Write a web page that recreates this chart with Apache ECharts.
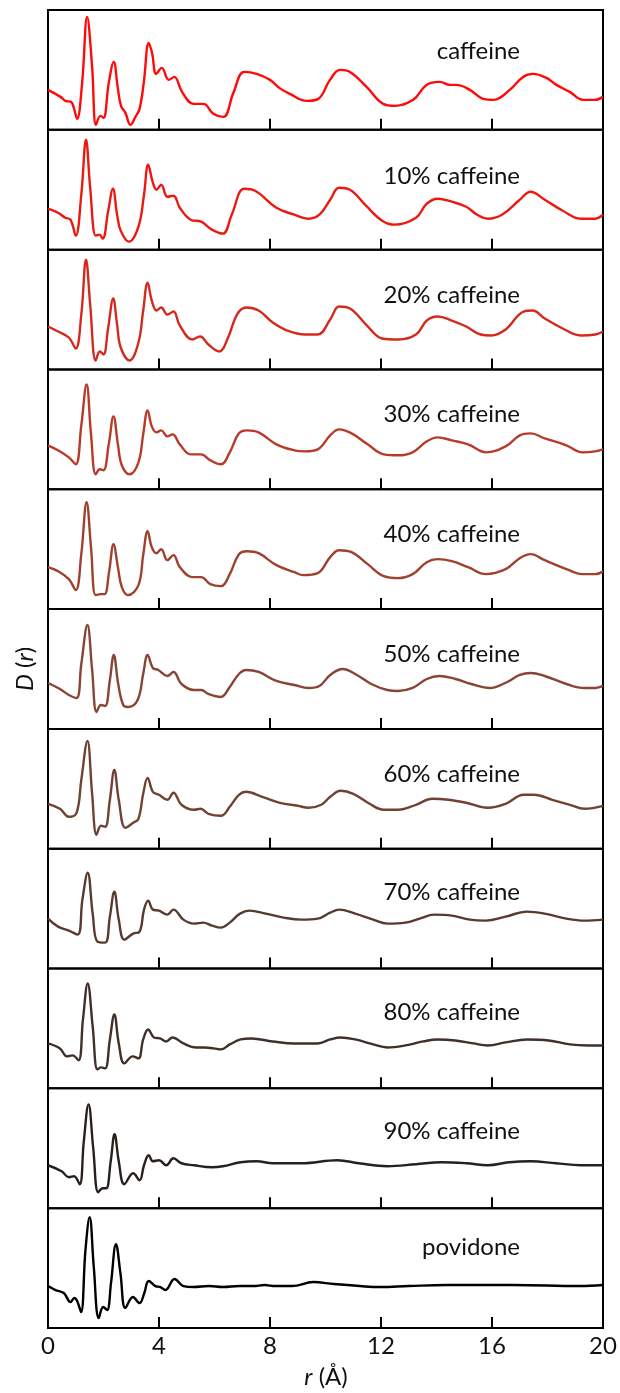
<!DOCTYPE html>
<html>
<head>
<meta charset="utf-8">
<script src="https://cdn.jsdelivr.net/npm/echarts@6/dist/echarts.min.js"></script>
<style>
html,body{margin:0;padding:0;background:#fff;}
#chart{width:620px;height:1393px;}
</style>
</head>
<body>
<div id="chart"></div>
<script>
// ---- data: [r (Å), D(r) in arbitrary units] ----
const caffeine = [[0,40],[0.45,33],[0.63,29],[0.83,28],[0.93,22],[1.05,11],[1.23,47],[1.41,113],[1.59,63],[1.73,5],[1.89,14],[2.0,12],[2.19,47],[2.37,68],[2.51,43],[2.63,24],[2.79,17],[2.97,5],[3.15,13],[3.3,21],[3.45,47],[3.63,87],[3.75,77],[3.9,56],[4.1,62],[4.35,50],[4.55,53],[4.83,38],[5.24,26],[5.6,26],[5.96,16],[6.32,13],[6.68,37],[7.07,58],[7.52,56],[8.0,50],[8.36,41.5],[8.72,36],[9.32,29],[9.74,31],[10.16,50],[10.52,60],[10.88,58],[11.48,43],[12.08,26],[12.5,24],[13.16,30],[13.64,45],[14.12,48],[14.48,45],[14.72,45],[15.2,40],[15.68,31],[16.04,30],[16.64,40],[17.12,53],[17.48,56],[17.96,52],[18.32,45],[18.8,38],[19.28,30],[19.7,30],[20,33]];
const caf10 = [[0,41],[0.36,37],[0.62,32],[0.81,30],[1.0,14],[1.2,55],[1.37,110],[1.52,62],[1.72,14],[1.85,15],[1.97,11],[2.17,39],[2.34,61],[2.49,35],[2.62,19],[2.92,8],[3.26,23],[3.46,55],[3.61,85],[3.78,67],[3.91,60],[4.08,65],[4.3,53],[4.52,54],[4.75,42],[5.14,30],[5.52,28],[5.91,20],[6.3,16],[6.62,35],[7.07,61],[7.46,59],[8.23,42],[8.88,35],[9.39,31],[9.78,35],[10.17,50],[10.49,62],[10.88,60],[11.46,44],[12.04,29],[12.49,25],[13.26,32],[13.65,46],[14.04,51],[14.55,48],[15.07,43],[15.46,35],[15.85,31],[16.36,35],[17.0,50],[17.39,58],[17.9,50],[18.55,39],[19.2,31],[19.72,31],[20,35]];
const caf20 = [[0,43],[0.36,38],[0.75,32],[1.0,21],[1.2,55],[1.37,110],[1.52,65],[1.72,9],[1.87,18],[2.0,15],[2.17,42],[2.35,71],[2.49,45],[2.62,22],[2.94,9],[3.26,27],[3.43,59],[3.59,87],[3.74,69],[3.91,59],[4.08,62],[4.3,55],[4.52,58],[4.75,44],[5.2,30],[5.48,33],[5.78,25],[6.17,18],[6.49,32],[6.81,55],[7.14,62],[7.59,59],[8.1,47],[8.62,39],[9.26,35],[9.72,35],[10.17,50],[10.49,63],[10.88,61],[11.46,45],[12.04,31],[12.62,30],[13.26,35],[13.65,49],[14.04,53],[14.55,49],[15.07,43],[15.59,35],[15.97,34],[16.49,40],[17.14,58],[17.46,59],[17.9,51],[18.55,41],[19.2,34],[19.72,35],[20,38]];
const caf30 = [[0,44],[0.36,39],[0.75,32],[1.0,25],[1.2,64],[1.39,105],[1.55,55],[1.72,15],[1.87,20],[2.0,19],[2.19,45],[2.36,73],[2.52,45],[2.66,24],[2.94,15],[3.26,27],[3.43,55],[3.59,79],[3.74,63],[3.91,57],[4.08,59],[4.3,53],[4.49,55],[4.75,45],[5.14,35],[5.52,35],[5.85,29],[6.23,25],[6.55,37],[6.88,56],[7.17,59],[7.59,57],[8.23,45],[8.88,39],[9.26,38],[9.72,40],[10.17,54],[10.49,60],[10.94,56],[11.52,45],[12.1,35],[12.62,34],[13.14,37],[13.65,48],[14.04,52],[14.55,49],[15.14,45],[15.78,37],[16.49,43],[17.0,54],[17.39,56],[17.9,51],[18.68,44],[19.26,37],[19.72,38],[20,40]];
const caf40 = [[0,42],[0.36,38],[0.75,30],[1.0,19],[1.2,55],[1.39,107],[1.55,62],[1.72,14],[1.91,15],[2.04,15],[2.21,39],[2.36,65],[2.52,42],[2.66,22],[2.88,14],[3.26,24],[3.43,54],[3.59,78],[3.74,62],[3.91,56],[4.08,60],[4.3,49],[4.52,54],[4.75,42],[5.2,32],[5.52,32],[5.85,25],[6.23,23],[6.55,35],[6.88,55],[7.17,58],[7.59,56],[8.23,44],[8.88,37],[9.2,34],[9.72,36],[10.17,52],[10.49,59],[10.94,57],[11.52,45],[12.1,33],[12.62,31],[13.14,35],[13.65,47],[14.04,50],[14.55,48],[15.14,42],[15.78,35],[16.49,40],[17.0,51],[17.39,55],[17.9,49],[18.68,40],[19.26,35],[19.72,35],[20,38]];
const caf50 = [[0,46],[0.43,40],[0.75,34],[1.03,31],[1.2,65],[1.42,104],[1.59,59],[1.75,17],[1.91,24],[2.06,23],[2.23,49],[2.37,74],[2.53,45],[2.71,24],[2.88,22],[3.23,29],[3.43,55],[3.59,74],[3.78,61],[3.97,59],[4.3,53],[4.52,57],[4.81,45],[5.26,39],[5.52,39],[5.78,35],[6.23,32],[6.55,42],[6.88,55],[7.14,59],[7.59,57],[8.23,48],[8.88,44],[9.39,41],[9.78,43],[10.17,54],[10.62,60],[11.07,55],[11.65,45],[12.23,39],[12.62,38],[13.14,41],[13.65,50],[14.1,53],[14.68,50],[15.26,45],[15.91,41],[16.55,47],[17.0,54],[17.39,56],[17.9,53],[18.68,45],[19.33,41],[19.72,41],[20,43]];
const caf60 = [[0,45],[0.43,40],[0.75,32],[1.03,36],[1.2,69],[1.42,108],[1.59,55],[1.75,14],[1.91,23],[2.06,22],[2.23,49],[2.39,79],[2.55,49],[2.79,21],[3.07,26],[3.26,30],[3.43,55],[3.59,71],[3.78,57],[4.0,54],[4.3,49],[4.52,56],[4.81,44],[5.26,39],[5.5,40],[5.78,35],[6.23,33],[6.55,42],[6.88,54],[7.14,57],[7.72,52],[8.36,46],[9.0,43],[9.39,41],[9.85,44],[10.17,52],[10.55,58],[11.0,55],[11.59,45],[12.1,39],[12.62,39],[13.26,44],[13.85,50],[14.43,49],[15.07,46],[15.85,41],[16.49,45],[17.14,54],[17.52,54],[18.17,49],[18.81,44],[19.33,40],[20,43]];
const caf70 = [[0,50],[0.36,42],[0.75,38],[1.07,34],[1.24,69],[1.43,96],[1.61,55],[1.78,27],[2.06,26],[2.23,52],[2.39,77],[2.55,49],[2.75,29],[3.07,35],[3.3,37],[3.46,59],[3.61,68],[3.78,59],[4.0,58],[4.3,54],[4.52,59],[4.88,49],[5.26,45],[5.59,46],[5.91,43],[6.23,41],[6.55,46],[6.92,55],[7.26,58],[7.85,55],[8.49,51],[9.14,49],[9.72,50],[10.17,56],[10.49,59],[11.07,55],[11.72,49],[12.23,45],[12.88,46],[13.39,50],[13.91,54],[14.55,53],[15.2,49],[15.78,48],[16.49,52],[17.26,57],[17.9,55],[18.68,50],[19.33,48],[20,49]];
const caf80 = [[0,45],[0.43,40],[0.68,32],[0.88,33],[1.1,28],[1.26,69],[1.43,105],[1.61,62],[1.78,19],[1.91,21],[2.06,20],[2.23,49],[2.39,74],[2.55,45],[2.75,25],[3.05,32],[3.26,30],[3.43,49],[3.61,59],[3.82,51],[4.04,50],[4.26,47],[4.49,51],[4.88,45],[5.33,41],[5.65,41],[5.97,40],[6.23,39],[6.55,44],[6.94,49],[7.33,50],[8.1,47],[8.88,45],[9.72,45],[10.17,49],[10.55,51],[11.07,49],[11.72,44],[12.23,41],[12.88,43],[13.52,47],[14.04,49],[14.68,48],[15.33,45],[15.85,43],[16.49,46],[17.26,49],[18.04,48],[18.81,44],[19.46,43],[20,43]];
const caf90 = [[0,43],[0.49,37],[0.75,31],[0.94,32],[1.14,24],[1.29,67],[1.46,104],[1.63,60],[1.81,16],[1.97,20],[2.1,20],[2.26,47],[2.4,74],[2.55,47],[2.75,24],[3.07,35],[3.3,28],[3.46,43],[3.63,53],[3.78,47],[4.0,48],[4.26,43],[4.52,50],[4.81,45],[5.26,43],[5.91,41],[6.3,42],[6.94,46],[7.52,47],[8.1,45],[9.14,45],[10.43,48],[11.2,45],[12.23,42],[13.26,44],[14.17,46],[15.07,45],[15.85,43],[16.62,46],[17.39,47],[18.3,45],[19.2,43],[20,43]];
const povidone = [[0,42],[0.27,38],[0.57,35],[0.81,26],[0.95,30],[1.05,27],[1.19,16],[1.35,78],[1.5,111],[1.65,61],[1.83,10],[1.99,21],[2.13,18],[2.27,45],[2.45,84],[2.61,55],[2.79,20],[3.06,31],[3.3,25],[3.47,35],[3.63,47],[3.87,42],[4.05,41],[4.23,38],[4.56,49],[4.88,42],[5.24,41],[5.8,42],[6.3,41],[6.9,42],[7.4,42],[7.8,43],[8.2,42],[8.8,42],[9.56,46],[10.3,44],[11.24,42],[11.96,41],[13,42],[14.36,43],[16.76,43],[19.16,42],[20,43]];

const seriesData = [caffeine, caf10, caf20, caf30, caf40, caf50, caf60, caf70, caf80, caf90, povidone];
const panelLabels = ['caffeine','10% caffeine','20% caffeine','30% caffeine','40% caffeine','50% caffeine','60% caffeine','70% caffeine','80% caffeine','90% caffeine','povidone'];
const xTicks = [0, 4, 8, 12, 16, 20];

// ---- styles ----
const colors = ['#ff0a0a','#ea1a12','#d22a1e','#b83a28','#a0412f','#884434','#704234','#583a30','#40302a','#27201d','#000000'];
const labelOffsets = [41,46,46,45,45,45,45,44,44,43,39];
const FONT = 'Lato, "Liberation Sans", sans-serif';
const FS = 24;
const TOP = 10, BOTTOM = 1328, LEFT = 48, RIGHT = 17;
const N = seriesData.length;
const H = (BOTTOM - TOP) / N;

const grids = [], xAxes = [], yAxes = [], series = [], graphics = [];
for (let i = 0; i < N; i++) {
  const last = i === N - 1;
  grids.push({left: LEFT, right: RIGHT, top: TOP + i * H, height: H, show: true,
    borderColor: '#000', borderWidth: 2, backgroundColor: 'transparent'});
  xAxes.push({type: 'value', gridIndex: i, min: xTicks[0], max: xTicks[xTicks.length - 1], interval: 4,
    axisLine: {show: false}, splitLine: {show: false},
    axisTick: {show: true, inside: true, length: 11, lineStyle: {color: '#000', width: 2}},
    axisLabel: {show: last, fontSize: FS, color: '#111', margin: 6, fontFamily: FONT}});
  yAxes.push({type: 'value', gridIndex: i, min: 0, max: 120, show: false});
  series.push({type: 'line', xAxisIndex: i, yAxisIndex: i, data: seriesData[i],
    showSymbol: false, smooth: 0.4,
    lineStyle: {color: colors[i], width: 2.4}, itemStyle: {color: colors[i]}, silent: true});
  graphics.push({type: 'text', x: 520, y: TOP + i * H + labelOffsets[i],
    style: {text: panelLabels[i], align: 'right', verticalAlign: 'middle', textAlign: 'right', textVerticalAlign: 'middle',
      fontSize: FS, fontFamily: FONT, fill: '#111'}});
}
graphics.push({type: 'text', x: 326, y: 1377,
  style: {text: '{i|r} (Å)', align: 'center', verticalAlign: 'middle', textAlign: 'center', textVerticalAlign: 'middle',
    fontSize: FS, fontFamily: FONT, fill: '#111',
    rich: {i: {fontStyle: 'italic', fontSize: FS, fontFamily: FONT, fill: '#111'}}}});
graphics.push({type: 'text', x: 25, y: 669, rotation: Math.PI / 2,
  style: {text: '{i|D} ({i|r})', align: 'center', verticalAlign: 'middle', textAlign: 'center', textVerticalAlign: 'middle',
    fontSize: FS, fontFamily: FONT, fill: '#111',
    rich: {i: {fontStyle: 'italic', fontSize: FS, fontFamily: FONT, fill: '#111'}}}});

const chart = echarts.init(document.getElementById('chart'), null, {renderer: 'canvas'});
chart.setOption({animation: false, backgroundColor: '#fff', grid: grids, xAxis: xAxes, yAxis: yAxes, series: series, graphic: graphics});
</script>
</body>
</html>
